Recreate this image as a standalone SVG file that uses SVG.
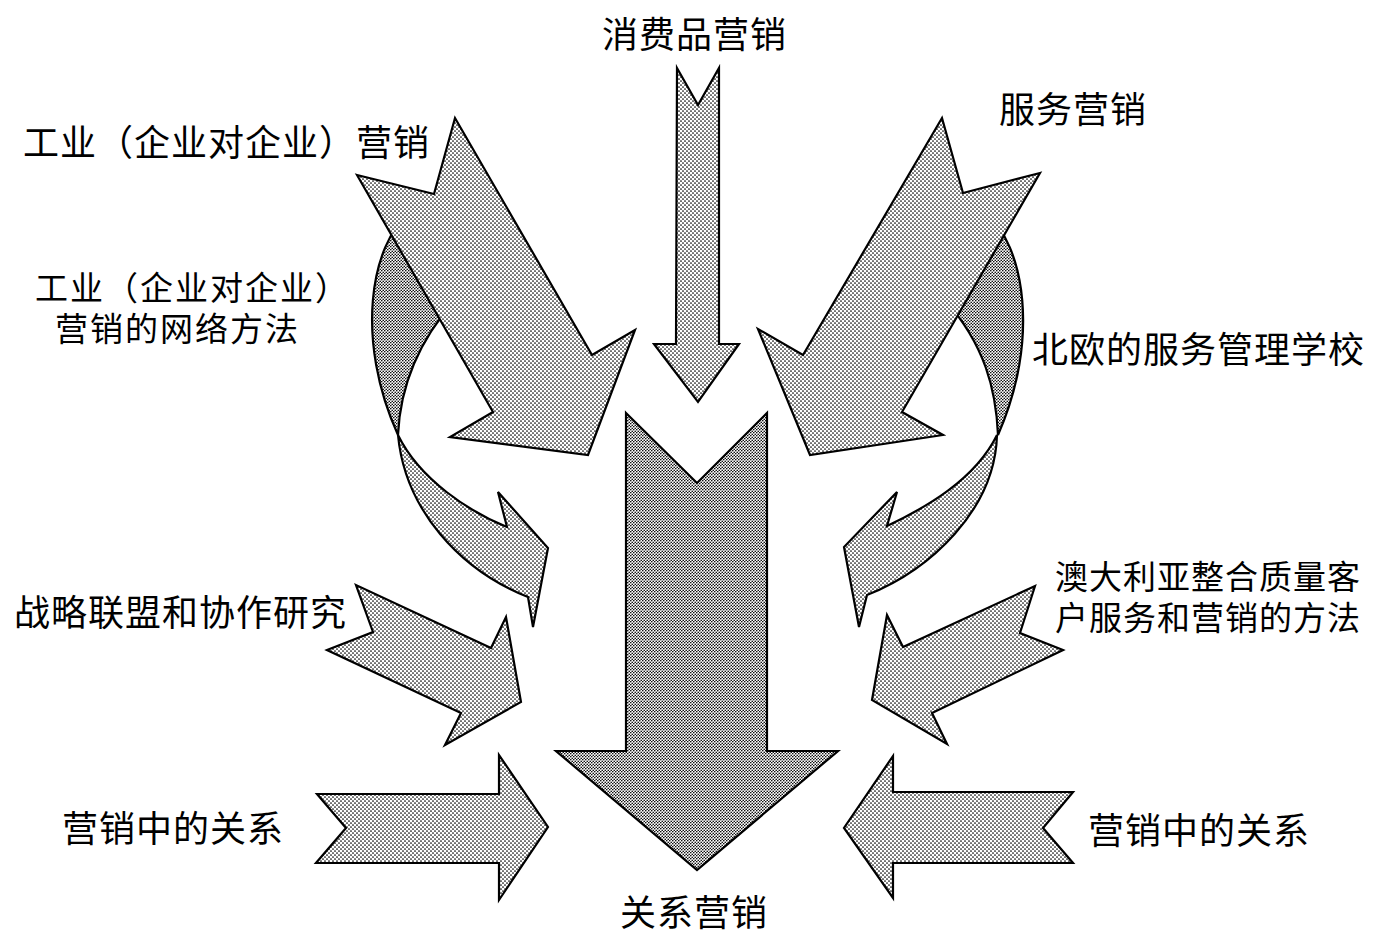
<svg xmlns="http://www.w3.org/2000/svg" width="1377" height="936" viewBox="0 0 1377 936">
<defs>
<pattern id="lt" width="4" height="4" patternUnits="userSpaceOnUse"><rect width="4" height="4" fill="#fff"/><circle cx="1" cy="1" r="0.85" fill="#000"/><circle cx="3" cy="3" r="0.85" fill="#000"/></pattern>
<pattern id="dk" width="3" height="3" patternUnits="userSpaceOnUse"><rect width="3" height="3" fill="#fff"/><circle cx="0.75" cy="0.75" r="0.8" fill="#000"/><circle cx="2.25" cy="2.25" r="0.8" fill="#000"/></pattern>
</defs>
<style>
.a{fill:url(#lt);stroke:#000;stroke-width:2.2;stroke-linejoin:miter}
.d{fill:url(#dk);stroke:#000;stroke-width:2.2;stroke-linejoin:miter}
text{font-family:"Noto Sans CJK SC","Noto Sans CJK JP",sans-serif;font-size:36px;fill:#000;dominant-baseline:central;letter-spacing:1px}
.s{font-family:"Liberation Sans","Noto Sans CJK SC",sans-serif;font-size:33px;letter-spacing:2px;dominant-baseline:alphabetic}
.s2{font-family:"Liberation Sans","Noto Sans CJK SC",sans-serif;font-size:33px;letter-spacing:1px;dominant-baseline:alphabetic}
</style>
<rect width="1377" height="936" fill="#fff"/>
<g id="connectors">
<g id="curve-left-back"><path class="d" d="M410 212 C370 245 355 340 398 435 C400 390 415 345 455 300 Z"/></g>
<g id="curve-right-back"><path class="d" d="M985 212 C1025 245 1040 340 998 435 C996 390 985 345 945 300 Z"/></g>
<g id="arrow-industrial"><polygon class="a" points="357,175 434,194 455,118 592,355 635,330 588,455 450,437 493,412"/></g>
<g id="arrow-service"><polygon class="a" points="1040,173 963,193 942,118 803,355 758,329 810,455 943,435 902,412"/></g>
<g id="curve-left-front"><path class="a" d="M398 435 C405 510 460 570 528 597 L533 627 L548 548 L498 492 L507 527 C470 512 420 480 398 435 Z"/></g>
<g id="curve-right-front"><path class="a" d="M997 435 C995 510 930 570 867 595 L859 627 L844 547 L897 492 L887 526 C925 508 975 480 997 435 Z"/></g>
<g id="arrow-consumer"><polygon class="a" points="677,68 698,105 719,68 719,344 739,344 698,402 654,344 676,344"/></g>
<g id="arrow-alliance"><polygon class="a" points="327,650 373,632 356,585 491,648 506,617 521,702 445,745 461,713"/></g>
<g id="arrow-australia"><polygon class="a" points="1063,650 1020,633 1035,586 903,647 887,615 872,700 947,744 932,713"/></g>
<g id="arrow-rel-left"><polygon class="a" points="317,794 499,794 499,755 548,827 499,900 499,863 316,863 346,828"/></g>
<g id="arrow-rel-right"><polygon class="a" points="1073,792 893,792 893,756 844,828 893,898 893,863 1073,863 1043,828"/></g>
<g id="arrow-main"><polygon class="d" points="626,413 697,483 767,413 767,751 838,751 697,870 556,751 626,751"/></g>
</g>
<g id="label-consumer"><text x="602" y="32">消费品营销</text></g>
<g id="label-industrial"><text x="23" y="140">工业（企业对企业）营销</text></g>
<g id="label-service"><text x="999" y="107">服务营销</text></g>
<g id="label-network"><text class="s"><tspan x="35" y="300">工业（企业对企业）</tspan><tspan x="55" y="341">营销的网络方法</tspan></text></g>
<g id="label-nordic"><text x="1032" y="347">北欧的服务管理学校</text></g>
<g id="label-alliance"><text x="14" y="610">战略联盟和协作研究</text></g>
<g id="label-australia"><text class="s2"><tspan x="1055" y="589">澳大利亚整合质量客</tspan><tspan x="1055" y="630">户服务和营销的方法</tspan></text></g>
<g id="label-rel-left"><text x="62" y="826">营销中的关系</text></g>
<g id="label-rel-right"><text x="1088" y="828">营销中的关系</text></g>
<g id="label-main"><text x="620" y="910">关系营销</text></g>
</svg>
